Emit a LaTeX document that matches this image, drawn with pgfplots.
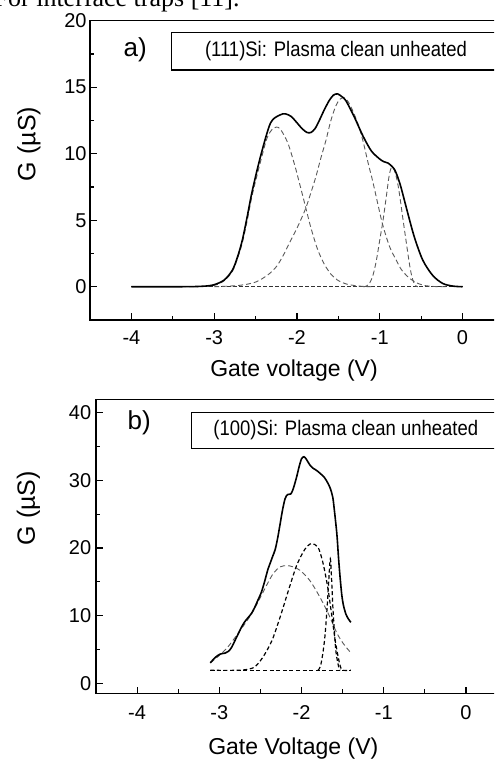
\documentclass[border=0pt]{standalone}
\usepackage{fontspec}
\setmainfont{Liberation Sans}
\newfontfamily\seriffont{Liberation Serif}
\usepackage{graphicx}
\usepackage{pgfplots}
\pgfplotsset{compat=1.18}

\pgfplotsset{
  panel/.style={
    scale only axis, anchor=south west,
    tick pos=left, tick align=inside,
    major tick length=3.3pt, minor tick length=2pt,
    axis line style={line width=0.6pt},
    every tick/.style={line width=0.6pt, black},
    tick label style={font=\fontsize{10}{12}\selectfont},
    /pgf/number format/assume math mode=true,
    xmin=-4.5, xmax=0.5, xtick={-4,-3,-2,-1,0}, minor x tick num=1,
  },
  solidc/.style={black, line width=0.8pt, smooth, tension=0.5},
  lightd/.style={black!65, line width=0.45pt, dash pattern=on 2.5pt off 1.5pt, smooth, tension=0.5},
  darkd/.style={black, line width=0.6pt, dash pattern=on 2pt off 1.3pt, smooth, tension=0.5},
}

\begin{document}
\begin{tikzpicture}[x=0.5pt,y=0.5pt]
\clip (0,0) rectangle (494,759);
\node[anchor=base east, inner sep=0, font=\seriffont\fontsize{13}{15}\selectfont] at (240,752) {For interface traps [11].};

% ---------------- panel a ----------------
\begin{axis}[panel, at={(45pt,219.5pt)}, width=206.95pt, height=149.65pt,
  ymin=-2.5, ymax=20, ytick={0,5,10,15,20}, minor y tick num=1,
  xticklabel style={yshift=-1.7pt}, yticklabel style={xshift=1.8pt}]
\addplot[black!80, line width=0.5pt, dash pattern=on 2pt off 1pt] coordinates {(-4,0) (0,0)};
\addplot[lightd] coordinates {
(-3.4,0) (-3.2,0.01) (-3.0,0.1) (-2.88,0.45) (-2.78,1.15) (-2.72,2.1) (-2.66,3.3) (-2.60,5.0)
(-2.54,6.9) (-2.44,9.4) (-2.36,11.2) (-2.29,11.9) (-2.25,12.0) (-2.20,11.85) (-2.11,10.8)
(-2.03,9.2) (-1.97,7.8) (-1.90,6.1) (-1.83,4.4) (-1.75,2.8) (-1.67,1.7) (-1.59,0.95)
(-1.51,0.5) (-1.40,0.2) (-1.25,0.05) (-1.1,0)};
\addplot[lightd] coordinates {
(-3.0,0) (-2.7,0.1) (-2.5,0.35) (-2.35,0.9) (-2.25,1.5) (-2.17,2.3) (-2.09,3.3) (-2.0,4.4)
(-1.90,5.8) (-1.83,7.1) (-1.77,8.3) (-1.71,9.7) (-1.65,11.0) (-1.59,12.5) (-1.53,13.6)
(-1.48,14.1) (-1.43,14.2) (-1.38,13.9) (-1.31,13.0) (-1.25,12.0) (-1.20,10.9) (-1.14,9.3)
(-1.08,7.8) (-0.97,4.8) (-0.88,3.0) (-0.80,2.0) (-0.74,1.3) (-0.66,0.75) (-0.58,0.38)
(-0.48,0.12) (-0.35,0.02) (-0.2,0)};
\addplot[lightd] coordinates {
(-1.2,0) (-1.16,0.05) (-1.12,0.3) (-1.08,0.9) (-1.04,2.0) (-1.00,3.5) (-0.96,5.0) (-0.92,6.8)
(-0.89,8.2) (-0.87,8.8) (-0.85,9.0) (-0.82,8.7) (-0.79,8.0) (-0.76,6.9) (-0.72,5.1)
(-0.69,3.8) (-0.66,2.5) (-0.63,1.3) (-0.60,0.5) (-0.57,0.1) (-0.54,0)};
\addplot[solidc] coordinates {
(-4.0,0) (-3.5,0) (-3.2,0.02) (-3.02,0.12) (-2.88,0.5) (-2.78,1.25) (-2.72,2.2) (-2.66,3.5)
(-2.60,5.3) (-2.54,7.2) (-2.44,9.8) (-2.32,12.3) (-2.21,12.9) (-2.14,13.0) (-2.07,12.8)
(-2.01,12.4) (-1.94,11.9) (-1.88,11.6) (-1.83,11.6) (-1.78,11.9) (-1.73,12.5) (-1.67,13.3)
(-1.61,14.0) (-1.56,14.4) (-1.51,14.5) (-1.46,14.3) (-1.41,14.0) (-1.31,12.8) (-1.20,11.3)
(-1.10,10.2) (-1.00,9.6) (-0.95,9.4) (-0.90,9.3) (-0.86,9.1) (-0.82,8.8) (-0.78,8.2)
(-0.74,7.4) (-0.66,5.5) (-0.58,3.7) (-0.48,2.0) (-0.36,0.85) (-0.24,0.25) (-0.12,0.05) (0,0)};
\end{axis}

% ---------------- panel b ----------------
\begin{axis}[panel, at={(48pt,32.85pt)}, width=205.55pt, height=147pt,
  ymin=-1.5, ymax=42, ytick={0,10,20,30,40}, minor y tick num=1,
  xticklabel style={yshift=-2.5pt}, yticklabel style={xshift=1.1pt}]
\addplot[darkd] coordinates {(-3.11,1.9) (-1.40,1.9)};
\addplot[lightd] coordinates {
(-3.11,3.0) (-3.0,4.1) (-2.9,5.3) (-2.8,6.9) (-2.7,8.6) (-2.6,10.4) (-2.5,12.7) (-2.42,14.6)
(-2.34,16.3) (-2.26,17.2) (-2.18,17.4) (-2.10,17.2) (-2.02,16.7) (-1.90,15.2) (-1.78,12.8)
(-1.675,10.3) (-1.57,7.4) (-1.50,6.0) (-1.45,5.2) (-1.40,4.5)};
\addplot[darkd] coordinates {
(-3.11,1.9) (-2.8,1.9) (-2.68,2.0) (-2.57,2.4) (-2.47,3.85) (-2.36,6.3) (-2.26,9.8)
(-2.16,13.7) (-2.06,17.4) (-1.96,19.8) (-1.88,20.65) (-1.80,20.1) (-1.75,18.3) (-1.715,16.4)
(-1.675,13.7) (-1.63,9.8) (-1.59,6.3) (-1.55,3.6) (-1.52,2.2) (-1.49,1.9) (-1.40,1.9)};
\addplot[darkd] coordinates {
(-1.80,1.9) (-1.77,2.5) (-1.74,4.5) (-1.715,7.0) (-1.69,11.0) (-1.67,15.0) (-1.65,18.4)
(-1.635,15.5) (-1.62,11.5) (-1.60,7.5) (-1.58,4.5) (-1.55,2.5) (-1.53,1.9)};
\addplot[solidc] coordinates {
(-3.11,3.0) (-3.05,3.8) (-2.99,4.3) (-2.93,4.45) (-2.89,4.7) (-2.85,5.3) (-2.81,6.3) (-2.77,7.3)
(-2.73,8.3) (-2.69,9.1) (-2.65,9.7) (-2.61,10.3) (-2.57,11.2) (-2.53,12.3) (-2.49,13.4)
(-2.45,15.0) (-2.41,16.8) (-2.38,17.8) (-2.35,18.8) (-2.32,19.8) (-2.29,21.5) (-2.26,23.6)
(-2.23,25.7) (-2.20,27.3) (-2.17,27.9) (-2.13,28.0) (-2.10,28.8) (-2.06,30.5) (-2.03,32.0)
(-2.00,33.2) (-1.97,33.5) (-1.94,33.1) (-1.90,32.3) (-1.86,31.8) (-1.82,31.5) (-1.77,31.0)
(-1.72,30.4) (-1.68,29.6) (-1.65,28.8) (-1.62,27.5) (-1.60,25.5) (-1.57,22.0) (-1.55,18.5)
(-1.53,15.5) (-1.51,13.0) (-1.49,11.5) (-1.46,10.2) (-1.43,9.5) (-1.40,9.0)};
\end{axis}

% labels and boxes (px units)
\draw[line width=0.6pt] (171.7,689) rectangle (500.6,726.3);
\node[font=\fontsize{10.5}{12}\selectfont, inner sep=0] at (336,707.7) {\scalebox{0.88}[1]{(111)Si: Plasma clean unheated}};
\node[font=\fontsize{13}{15}\selectfont, inner sep=0] at (135.3,709) {a)};
\node[font=\fontsize{12.5}{14}\selectfont, rotate=90, inner sep=0] at (29,615) {G (µS)};
\node[font=\fontsize{11.5}{13}\selectfont, anchor=base, inner sep=0] at (294,382.5) {Gate voltage (V)};

\draw[line width=0.6pt] (191.7,310.7) rectangle (500,346.7);
\node[font=\fontsize{10.5}{12}\selectfont, inner sep=0] at (345.8,328.7) {\scalebox{0.88}[1]{(100)Si: Plasma clean unheated}};
\node[font=\fontsize{13}{15}\selectfont, inner sep=0] at (139.2,336.5) {b)};
\node[font=\fontsize{12.5}{14}\selectfont, rotate=90, inner sep=0] at (28.5,250.7) {G (µS)};
\node[font=\fontsize{11.5}{13}\selectfont, anchor=base, inner sep=0] at (293.3,4) {Gate Voltage (V)};
\end{tikzpicture}
\end{document}
